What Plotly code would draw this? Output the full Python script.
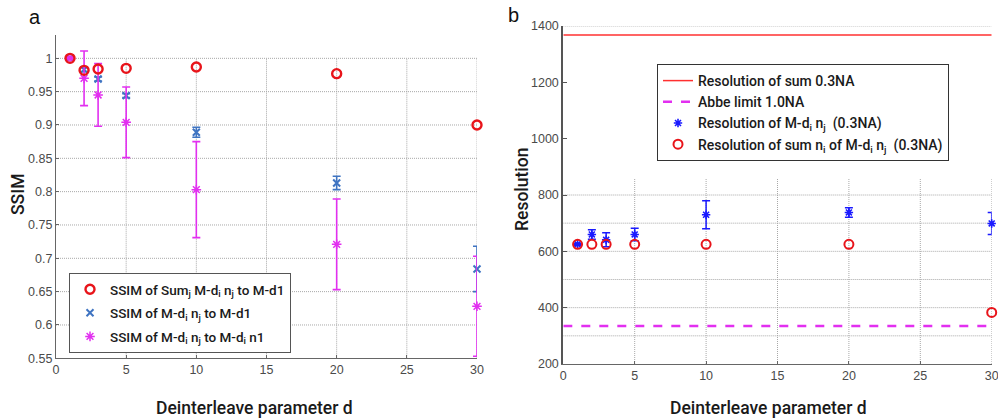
import plotly.graph_objects as go

# ---------------- data ----------------
D = [1, 2, 3, 5, 10, 20, 30]

ssim_sum = [1.000, 0.982, 0.984, 0.985, 0.987, 0.977, 0.900]
ssim_d1 = [1.000, 0.983, 0.969, 0.944, 0.889, 0.813, 0.684]
ssim_d1_err = [0.001, 0.003, 0.003, 0.003, 0.0075, 0.010, 0.034]
ssim_n1 = [1.000, 0.970, 0.945, 0.904, 0.803, 0.721, 0.628]
ssim_n1_err = [0.001, 0.041, 0.047, 0.053, 0.072, 0.068, 0.075]

res_dn = [625, 660, 641, 660, 730, 738, 699]
res_dn_err = [3, 17, 25, 22, 50, 17, 39]
res_sum = [625, 625, 625, 625, 625, 625, 383]
RES_SUM_LINE = 1368
ABBE_LIMIT = 335
LINE_X = [0, 30]

ssim_ticks = [0.55, 0.6, 0.65, 0.7, 0.75, 0.8, 0.85, 0.9, 0.95, 1.0]
ssim_ticktext = ["0.55", "0.6", "0.65", "0.7", "0.75", "0.8", "0.85", "0.9", "0.95", "1"]
res_ticks = [200, 400, 600, 800, 1000, 1200, 1400]
res_grid = [300, 400, 500, 600, 700, 800, 1400]
x_ticks = [0, 5, 10, 15, 20, 25, 30]

# ---------------- styles ----------------
RED = "#e8141a"
BLUE_L = "#3f74c2"
MAG = "#e22ff0"
BLUE_R = "#1a1aff"
GRID = "#a8a8a8"
GRID_DASH = "1px,1px"
TICKFONT = dict(family="Liberation Sans, Arial, sans-serif", size=12.5, color="#4a4a4a")
LABFONT = dict(family="Roboto, sans-serif", size=17.5, color="#1a1a1a", weight=500)
LEGFONT = dict(family="Roboto, sans-serif", size=13.5, color="#1a1a1a", weight=500)
LEGFONT2 = dict(family="Roboto, sans-serif", size=14, color="#1a1a1a", weight=500)

fig = go.Figure()

# ----- left panel -----
fig.add_trace(go.Scatter(
    x=D, y=ssim_d1, mode="markers", xaxis="x", yaxis="y", legend="legend", legendgroup="l2",
    name="SSIM of M-d<sub>i</sub> n<sub>j</sub> to M-d1", legendrank=2, cliponaxis=False,
    marker=dict(symbol="x-thin-open", size=7, color=BLUE_L, line=dict(width=2, color=BLUE_L)),
    error_y=dict(type="data", array=ssim_d1_err, color=BLUE_L, thickness=1.6, width=4),
))
fig.add_trace(go.Scatter(
    x=D, y=ssim_n1, mode="markers", xaxis="x", yaxis="y", legend="legend", legendgroup="l3",
    name="SSIM of M-d<sub>i</sub> n<sub>j</sub> to M-d<sub>i</sub> n1", legendrank=3, cliponaxis=False,
    marker=dict(symbol="asterisk-open", size=8, color=MAG, line=dict(width=1.5, color=MAG)),
    error_y=dict(type="data", array=ssim_n1_err, color=MAG, thickness=1.6, width=4),
))
fig.add_trace(go.Scatter(
    x=D, y=ssim_sum, mode="markers", xaxis="x", yaxis="y", legend="legend", legendgroup="l1",
    name="SSIM of Sum<sub>j</sub> M-d<sub>i</sub> n<sub>j</sub> to M-d1", legendrank=1, cliponaxis=False,
    marker=dict(symbol="circle-open", size=9, color=RED, line=dict(width=2.4, color=RED)),
))

# ----- right panel -----
fig.add_trace(go.Scatter(
    x=LINE_X, y=[RES_SUM_LINE] * len(LINE_X), mode="lines", xaxis="x2", yaxis="y2",
    legend="legend2", name="Resolution of sum 0.3NA", legendrank=1,
    line=dict(color="#ff3030", width=1.5),
))
fig.add_trace(go.Scatter(
    x=LINE_X, y=[ABBE_LIMIT] * len(LINE_X), mode="lines", xaxis="x2", yaxis="y2",
    legend="legend2", name="Abbe limit 1.0NA", legendrank=2,
    line=dict(color=MAG, width=2.5, dash="dash"),
))
fig.add_trace(go.Scatter(
    x=D, y=res_dn, mode="markers", xaxis="x2", yaxis="y2", legend="legend2", cliponaxis=False,
    name="Resolution of M-d<sub>i</sub> n<sub>j</sub>\u00a0\u00a0(0.3NA)", legendrank=3,
    marker=dict(symbol="asterisk-open", size=7, color=BLUE_R, line=dict(width=1.6, color=BLUE_R)),
    error_y=dict(type="data", array=res_dn_err, color=BLUE_R, thickness=1.5, width=4),
))
fig.add_trace(go.Scatter(
    x=D, y=res_sum, mode="markers", xaxis="x2", yaxis="y2", legend="legend2", cliponaxis=False,
    name="Resolution of sum n<sub>i</sub> of M-d<sub>i</sub> n<sub>j</sub>\u00a0\u00a0(0.3NA)", legendrank=4,
    marker=dict(symbol="circle-open", size=9, color=RED, line=dict(width=2, color=RED)),
))

# ----- grid lines drawn as shapes (partial grids as in reference) -----
shapes = []
for xv in x_ticks[1:]:
    shapes.append(dict(type="line", xref="x", yref="y", x0=xv, x1=xv, y0=0.55, y1=1.0,
                       line=dict(color=GRID, width=1, dash=GRID_DASH), layer="below"))
for yv in ssim_ticks[1:]:
    shapes.append(dict(type="line", xref="x", yref="y", x0=0, x1=30, y0=yv, y1=yv,
                       line=dict(color=GRID, width=1, dash=GRID_DASH), layer="below"))
for xv in x_ticks[1:]:
    shapes.append(dict(type="line", xref="x2", yref="y2", x0=xv, x1=xv, y0=200, y1=860,
                       line=dict(color=GRID, width=1, dash=GRID_DASH), layer="below"))
for yv in res_grid:
    shapes.append(dict(type="line", xref="x2", yref="y2", x0=0, x1=30, y0=yv, y1=yv,
                       line=dict(color=GRID, width=1, dash=GRID_DASH), layer="below"))

W, H = 998, 418
AX = dict(showgrid=False, zeroline=False, showline=True, automargin=False,
          ticks="inside", ticklen=3, tickfont=TICKFONT, ticklabeloverflow="allow")
fig.update_layout(
    width=W, height=H, margin=dict(l=0, r=0, t=0, b=0, autoexpand=False),
    paper_bgcolor="white", plot_bgcolor="white",
    shapes=shapes,
    xaxis=dict(AX, domain=[56 / W, 477 / W], range=[0, 30], tickvals=x_ticks,
               linecolor="#666", linewidth=1.2, tickcolor="#666", anchor="y"),
    yaxis=dict(AX, domain=[1 - 358.3 / H, 1 - 35 / H], range=[0.55, 1.035], tickvals=ssim_ticks,
               ticktext=ssim_ticktext, linecolor="#666", linewidth=1.2, tickcolor="#666", anchor="x"),
    xaxis2=dict(AX, domain=[563.3 / W, 991.7 / W], range=[0, 30], tickvals=x_ticks,
                linecolor="#666", linewidth=1.2, tickcolor="#666", anchor="y2"),
    yaxis2=dict(AX, domain=[1 - 364 / H, 1 - 26 / H], range=[200, 1400], tickvals=res_ticks,
                linecolor="#555", linewidth=2, tickcolor="#555", ticklen=4, anchor="x2"),
    legend=dict(x=69 / W, y=1 - 273 / H, xanchor="left", yanchor="top",
                bgcolor="white", bordercolor="#555", borderwidth=1, font=LEGFONT,
                traceorder="grouped", tracegroupgap=3, itemwidth=30),
    legend2=dict(x=657 / W, y=1 - 64 / H, xanchor="left", yanchor="top",
                 bgcolor="white", bordercolor="#333", borderwidth=1, font=LEGFONT2,
                 tracegroupgap=0, itemwidth=30),
    annotations=[
        dict(text="a", x=35 / W, y=1 - 17 / H, xref="paper", yref="paper", showarrow=False,
             xanchor="center", yanchor="middle",
             font=dict(family="Liberation Sans, Arial", size=20, color="#111")),
        dict(text="b", x=513 / W, y=1 - 15 / H, xref="paper", yref="paper", showarrow=False,
             xanchor="center", yanchor="middle",
             font=dict(family="Liberation Sans, Arial", size=20, color="#111")),
        dict(text="Deinterleave parameter d", x=255 / W, y=1 - 408 / H, xref="paper", yref="paper",
             xanchor="center", yanchor="middle", showarrow=False, font=LABFONT),
        dict(text="Deinterleave parameter d", x=768 / W, y=1 - 408 / H, xref="paper", yref="paper",
             xanchor="center", yanchor="middle", showarrow=False, font=LABFONT),
        dict(text="SSIM", x=18 / W, y=1 - 195 / H, xref="paper", yref="paper", textangle=-90,
             xanchor="center", yanchor="middle", showarrow=False, font=LABFONT),
        dict(text="Resolution", x=522 / W, y=1 - 190 / H, xref="paper", yref="paper", textangle=-90,
             xanchor="center", yanchor="middle", showarrow=False, font=LABFONT),
    ],
)

fig.write_html("out.html", config={"displayModeBar": False})

# remove the browser's default page margin so the figure sits at the window origin
with open("out.html", "r", encoding="utf-8") as fh:
    html = fh.read()
html = html.replace("<head>", "<head><style>html,body{margin:0;padding:0;overflow:hidden;}</style>", 1)
with open("out.html", "w", encoding="utf-8") as fh:
    fh.write(html)
